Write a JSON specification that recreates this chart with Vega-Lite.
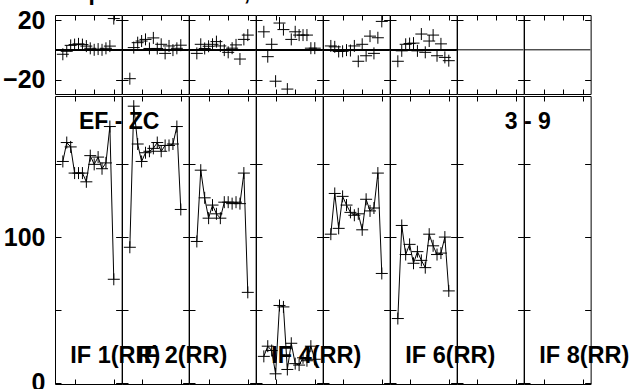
{
  "$schema": "https://vega.github.io/schema/vega-lite/v6.json",
  "padding": {"left": 2, "top": -18, "right": 0, "bottom": 0},
  "spacing": 0,
  "title": {"text": "Freq = 4.8275 GHz, BW = 16.000 MHz\u00a0\u00a0 Calibrated with CL 2", "anchor": "start", "frame": "group", "dx": -10, "offset": 3, "font": "Liberation Sans", "fontSize": 23, "fontWeight": "bold", "color": "#000"},
  "config": {
    "font": "Liberation Sans",
    "view": {"stroke": "#000", "strokeWidth": 1},
    "concat": {"spacing": 0},
    "facet": {"spacing": 0},
    "axis": {"grid": true, "gridColor": "#000", "gridOpacity": 1, "gridWidth": 1, "domain": false, "ticks": false, "title": null, "labelFont": "Liberation Sans", "labelFontSize": 25, "labelFontWeight": "bold", "labelColor": "#000", "labelPadding": 10},
    "axisX": {"minExtent": 0, "maxExtent": 0, "labelPadding": 0, "offset": 0}
  },
  "data": {"values": [
    {"IF":1,"ch":2,"ph":-3,"amp":152},{"IF":1,"ch":3,"ph":-1,"amp":165},{"IF":1,"ch":4,"ph":3,"amp":162},{"IF":1,"ch":5,"ph":3.5,"amp":144},{"IF":1,"ch":6,"ph":4,"amp":144},{"IF":1,"ch":7,"ph":3.5,"amp":144},{"IF":1,"ch":8,"ph":2.5,"amp":138},{"IF":1,"ch":9,"ph":1,"amp":156},{"IF":1,"ch":10,"ph":0,"amp":150},{"IF":1,"ch":11,"ph":0.5,"amp":155},{"IF":1,"ch":12,"ph":0,"amp":147},{"IF":1,"ch":13,"ph":1,"amp":151},{"IF":1,"ch":14,"ph":2.5,"amp":176},{"IF":1,"ch":15,"ph":21,"amp":71},
    {"IF":2,"ch":2,"ph":-19.4,"amp":93},{"IF":2,"ch":3,"ph":1.5,"amp":190},{"IF":2,"ch":4,"ph":4.8,"amp":164},{"IF":2,"ch":5,"ph":5.9,"amp":152},{"IF":2,"ch":6,"ph":7,"amp":158},{"IF":2,"ch":7,"ph":0.9,"amp":159},{"IF":2,"ch":8,"ph":8,"amp":161},{"IF":2,"ch":9,"ph":0.9,"amp":165},{"IF":2,"ch":10,"ph":3.7,"amp":159},{"IF":2,"ch":11,"ph":-2.4,"amp":163},{"IF":2,"ch":12,"ph":2.6,"amp":163},{"IF":2,"ch":13,"ph":-0.2,"amp":164},{"IF":2,"ch":14,"ph":1,"amp":176},{"IF":2,"ch":15,"ph":3.1,"amp":119},
    {"IF":3,"ch":2,"ph":-2.4,"amp":97},{"IF":3,"ch":3,"ph":3.7,"amp":146},{"IF":3,"ch":4,"ph":0.9,"amp":127},{"IF":3,"ch":5,"ph":2.4,"amp":113},{"IF":3,"ch":6,"ph":3.7,"amp":122},{"IF":3,"ch":7,"ph":5.5,"amp":116},{"IF":3,"ch":8,"ph":2.6,"amp":113},{"IF":3,"ch":9,"ph":-0.2,"amp":124},{"IF":3,"ch":10,"ph":-1.7,"amp":124},{"IF":3,"ch":11,"ph":1.1,"amp":123},{"IF":3,"ch":12,"ph":3.3,"amp":124},{"IF":3,"ch":13,"ph":-6.2,"amp":123},{"IF":3,"ch":14,"ph":7,"amp":144},{"IF":3,"ch":15,"ph":9.9,"amp":62},
    {"IF":4,"ch":2,"ph":12.1,"amp":18},{"IF":4,"ch":3,"ph":-4.6,"amp":25},{"IF":4,"ch":4,"ph":3.7,"amp":22},{"IF":4,"ch":5,"ph":-21.1,"amp":6},{"IF":4,"ch":6,"ph":18,"amp":53},{"IF":4,"ch":7,"ph":13.6,"amp":52},{"IF":4,"ch":8,"ph":-26.4,"amp":9},{"IF":4,"ch":9,"ph":7,"amp":27},{"IF":4,"ch":10,"ph":12.1,"amp":13},{"IF":4,"ch":11,"ph":9.9,"amp":12},{"IF":4,"ch":12,"ph":9.9,"amp":17},{"IF":4,"ch":13,"ph":9.9,"amp":15},{"IF":4,"ch":14,"ph":1.1,"amp":25},{"IF":4,"ch":15,"ph":1.1,"amp":16},
    {"IF":5,"ch":2,"ph":2.6,"amp":102},{"IF":5,"ch":3,"ph":2,"amp":130},{"IF":5,"ch":4,"ph":-1.1,"amp":106},{"IF":5,"ch":5,"ph":-1,"amp":128},{"IF":5,"ch":6,"ph":-0.2,"amp":122},{"IF":5,"ch":7,"ph":-0.5,"amp":117},{"IF":5,"ch":8,"ph":2.6,"amp":115},{"IF":5,"ch":9,"ph":-7.7,"amp":116},{"IF":5,"ch":10,"ph":3.7,"amp":105},{"IF":5,"ch":11,"ph":-4,"amp":126},{"IF":5,"ch":12,"ph":9.2,"amp":118},{"IF":5,"ch":13,"ph":-2.4,"amp":120},{"IF":5,"ch":14,"ph":8.1,"amp":144},{"IF":5,"ch":15,"ph":19.1,"amp":75},
    {"IF":6,"ch":2,"ph":-7.7,"amp":44},{"IF":6,"ch":3,"ph":-0.7,"amp":108},{"IF":6,"ch":4,"ph":3.7,"amp":88},{"IF":6,"ch":5,"ph":4.2,"amp":95},{"IF":6,"ch":6,"ph":4.5,"amp":82},{"IF":6,"ch":7,"ph":-0.7,"amp":90},{"IF":6,"ch":8,"ph":10.6,"amp":84},{"IF":6,"ch":9,"ph":-1.7,"amp":79},{"IF":6,"ch":10,"ph":5.9,"amp":102},{"IF":6,"ch":11,"ph":9.9,"amp":94},{"IF":6,"ch":12,"ph":-4,"amp":88},{"IF":6,"ch":13,"ph":4,"amp":89},{"IF":6,"ch":14,"ph":-5.1,"amp":100},{"IF":6,"ch":15,"ph":-7.3,"amp":63},
    {"IF":1,"label":"IF 1(RR)"},{"IF":2,"label":"IF 2(RR)"},{"IF":4,"label":"IF 4(RR)"},{"IF":6,"label":"IF 6(RR)"},{"IF":8,"label":"IF 8(RR)"},
    {"IF":1,"note":"EF - ZC"},{"IF":7,"note":"3 - 9"}
  ]},
  "vconcat": [
    {
      "facet": {"column": {"field": "IF", "type": "ordinal", "header": null}},
      "spacing": 0,
      "bounds": "flush",
      "resolve": {"axis": {"x": "independent"}},
      "spec": {
        "width": 66.625, "height": 79,
        "layer": [
          {
            "mark": {"type": "rule", "color": "#000", "strokeWidth": 1, "clip": true},
            "encoding": {"y": {"datum": 0}}
          },
          {
            "transform": [{"filter": "isValid(datum.ph)"}],
            "mark": {"type": "point", "shape": "M-1,0H1M0,-1V1", "size": 144, "stroke": "#000", "strokeWidth": 1, "filled": false, "opacity": 1, "clip": true},
            "encoding": {
              "x": {"field": "ch", "type": "quantitative", "scale": {"domain": [0, 17], "nice": false}, "axis": {"values": [5, 10, 15], "labels": false, "gridDash": [5, 69]}},
              "y": {"field": "ph", "type": "quantitative", "scale": {"domain": [-29.7, 23.4], "nice": false}, "axis": {"values": [-20, 0, 20], "labelExpr": "datum.value == 0 ? '' : datum.label", "gridDash": {"condition": {"test": "datum.value == 0", "value": [1, 0]}, "value": [6, 54.625]}}}
            }
          }
        ]
      }
    },
    {
      "facet": {"column": {"field": "IF", "type": "ordinal", "header": null}},
      "spacing": 0,
      "bounds": "flush",
      "resolve": {"axis": {"x": "independent"}},
      "spec": {
        "width": 66.625, "height": 288,
        "layer": [
          {
            "transform": [{"filter": "isValid(datum.amp)"}],
            "mark": {"type": "line", "color": "#000", "strokeWidth": 1},
            "encoding": {
              "x": {"field": "ch", "type": "quantitative", "scale": {"domain": [0, 17], "nice": false}, "axis": {"values": [5, 10, 15], "labels": false, "gridDash": [5, 278]}},
              "y": {"field": "amp", "type": "quantitative", "scale": {"domain": [-1, 197], "nice": false}, "axis": {"values": [0, 50, 100, 150], "labelExpr": "datum.value == 50 || datum.value == 150 ? '' : datum.label", "gridDash": [6, 54.625]}}
            }
          },
          {
            "transform": [{"filter": "isValid(datum.amp)"}],
            "mark": {"type": "point", "shape": "M-1,0H1M0,-1V1", "size": 144, "stroke": "#000", "strokeWidth": 1, "filled": false, "opacity": 1},
            "encoding": {
              "x": {"field": "ch", "type": "quantitative"},
              "y": {"field": "amp", "type": "quantitative"}
            }
          },
          {
            "transform": [{"filter": "isValid(datum.label)"}],
            "mark": {"type": "text", "align": "left", "baseline": "alphabetic", "fontSize": 23.5, "fontWeight": "bold", "color": "#000"},
            "encoding": {"x": {"datum": 3.9}, "y": {"datum": 13.5}, "text": {"field": "label"}}
          },
          {
            "transform": [{"filter": "datum.note == 'EF - ZC'"}],
            "mark": {"type": "text", "align": "left", "baseline": "alphabetic", "fontSize": 23, "fontWeight": "bold", "color": "#000"},
            "encoding": {"x": {"datum": 6.1}, "y": {"datum": 174.5}, "text": {"field": "note"}}
          },
          {
            "transform": [{"filter": "datum.note == '3 - 9'"}],
            "mark": {"type": "text", "align": "left", "baseline": "alphabetic", "fontSize": 23, "fontWeight": "bold", "color": "#000"},
            "encoding": {"x": {"datum": 12.2}, "y": {"datum": 174.5}, "text": {"field": "note"}}
          }
        ]
      }
    }
  ]
}
